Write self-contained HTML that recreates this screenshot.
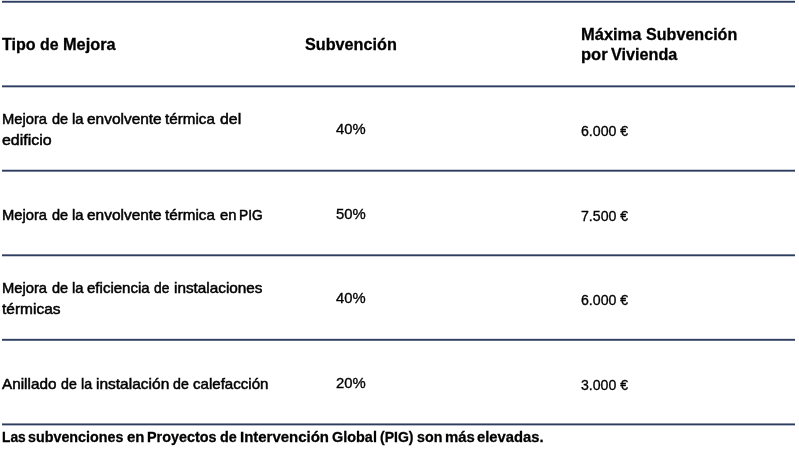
<!DOCTYPE html>
<html><head><meta charset="utf-8"><style>
html,body{margin:0;padding:0;background:#fff;width:799px;height:457px;overflow:hidden}
body{position:relative}
.t{position:absolute;white-space:pre;color:#000;font-family:"Liberation Sans",sans-serif;transform-origin:0 0}
#txt{position:absolute;left:0;top:0;width:799px;height:457px;filter:opacity(1)}
.b{font-weight:700;-webkit-text-stroke:0.3px #000}
.r{font-weight:400;-webkit-text-stroke:0.5px #000}
.n{font-weight:400;-webkit-text-stroke:0.35px #000}
svg{position:absolute;left:0;top:0}
</style></head><body>
<svg width="799" height="457" viewBox="0 0 799 457"><g fill="#2c3d5f"><rect x="2" y="0.80" width="793" height="1.9"/><rect x="2" y="85.40" width="793" height="1.9"/><rect x="2" y="169.75" width="793" height="1.9"/><rect x="2" y="254.35" width="793" height="1.9"/><rect x="2" y="338.85" width="793" height="1.9"/><rect x="2" y="423.45" width="793" height="1.9"/></g></svg>
<div id="txt">
<span class="t b" style="left:2.09px;top:36px;font-size:16.5px;line-height:16.5px;transform:scaleX(0.9736)">Tipo</span>
<span class="t b" style="left:40.32px;top:36px;font-size:16.5px;line-height:16.5px;transform:scaleX(0.9640)">de</span>
<span class="t b" style="left:62.94px;top:36px;font-size:16.5px;line-height:16.5px;transform:scaleX(0.9897)">Mejora</span>
<span class="t b" style="left:305.17px;top:36px;font-size:16.5px;line-height:16.5px;transform:scaleX(0.9817)">Subvención</span>
<span class="t b" style="left:581.03px;top:26px;font-size:16.5px;line-height:16.5px;transform:scaleX(0.9981)">Máxima</span>
<span class="t b" style="left:646.18px;top:26px;font-size:16.5px;line-height:16.5px;transform:scaleX(0.9763)">Subvención</span>
<span class="t b" style="left:581.12px;top:46px;font-size:16.5px;line-height:16.5px;transform:scaleX(1.0021)">por</span>
<span class="t b" style="left:611.13px;top:46px;font-size:16.5px;line-height:16.5px;transform:scaleX(0.9822)">Vivienda</span>
<span class="t r" style="left:1.99px;top:111px;font-size:15px;line-height:15px;transform:scaleX(0.9831)">Mejora</span>
<span class="t r" style="left:51.76px;top:111px;font-size:15px;line-height:15px;transform:scaleX(0.9698)">de</span>
<span class="t r" style="left:71.55px;top:111px;font-size:15px;line-height:15px;transform:scaleX(0.9849)">la</span>
<span class="t r" style="left:86.83px;top:111px;font-size:15px;line-height:15px;transform:scaleX(1.0297)">envolvente</span>
<span class="t r" style="left:165.43px;top:111px;font-size:15px;line-height:15px;transform:scaleX(1.0139)">térmica</span>
<span class="t r" style="left:219.53px;top:111px;font-size:15px;line-height:15px;transform:scaleX(1.0568)">del</span>
<span class="t r" style="left:2.22px;top:132px;font-size:15px;line-height:15px;transform:scaleX(1.0634)">edificio</span>
<span class="t n" style="left:335.65px;top:121px;font-size:15.5px;line-height:15.5px;transform:scaleX(0.9523)">40%</span>
<span class="t n" style="left:581.27px;top:123px;font-size:15.5px;line-height:15.5px;transform:scaleX(0.9130)">6.000 €</span>
<span class="t r" style="left:1.99px;top:207px;font-size:15px;line-height:15px;transform:scaleX(0.9831)">Mejora</span>
<span class="t r" style="left:51.76px;top:207px;font-size:15px;line-height:15px;transform:scaleX(0.9698)">de</span>
<span class="t r" style="left:71.55px;top:207px;font-size:15px;line-height:15px;transform:scaleX(0.9849)">la</span>
<span class="t r" style="left:86.83px;top:207px;font-size:15px;line-height:15px;transform:scaleX(1.0297)">envolvente</span>
<span class="t r" style="left:165.43px;top:207px;font-size:15px;line-height:15px;transform:scaleX(1.0159)">térmica</span>
<span class="t r" style="left:219.84px;top:207px;font-size:15px;line-height:15px;transform:scaleX(0.9887)">en</span>
<span class="t r" style="left:239.29px;top:207px;font-size:15px;line-height:15px;transform:scaleX(0.9158)">PIG</span>
<span class="t n" style="left:335.54px;top:206px;font-size:15.5px;line-height:15.5px;transform:scaleX(0.9591)">50%</span>
<span class="t n" style="left:581.30px;top:208px;font-size:15.5px;line-height:15.5px;transform:scaleX(0.9125)">7.500 €</span>
<span class="t r" style="left:1.99px;top:280px;font-size:15px;line-height:15px;transform:scaleX(0.9831)">Mejora</span>
<span class="t r" style="left:51.76px;top:280px;font-size:15px;line-height:15px;transform:scaleX(0.9698)">de</span>
<span class="t r" style="left:71.55px;top:280px;font-size:15px;line-height:15px;transform:scaleX(0.9849)">la</span>
<span class="t r" style="left:86.84px;top:280px;font-size:15px;line-height:15px;transform:scaleX(1.0021)">eficiencia</span>
<span class="t r" style="left:154.28px;top:280px;font-size:15px;line-height:15px;transform:scaleX(0.9191)">de</span>
<span class="t r" style="left:173.54px;top:280px;font-size:15px;line-height:15px;transform:scaleX(1.0204)">instalaciones</span>
<span class="t r" style="left:2.13px;top:301px;font-size:15px;line-height:15px;transform:scaleX(1.0332)">térmicas</span>
<span class="t n" style="left:335.65px;top:290px;font-size:15.5px;line-height:15.5px;transform:scaleX(0.9523)">40%</span>
<span class="t n" style="left:581.27px;top:292px;font-size:15.5px;line-height:15.5px;transform:scaleX(0.9130)">6.000 €</span>
<span class="t r" style="left:2.28px;top:376px;font-size:15px;line-height:15px;transform:scaleX(1.0190)">Anillado</span>
<span class="t r" style="left:60.97px;top:376px;font-size:15px;line-height:15px;transform:scaleX(0.9444)">de</span>
<span class="t r" style="left:80.77px;top:376px;font-size:15px;line-height:15px;transform:scaleX(0.9488)">la</span>
<span class="t r" style="left:95.63px;top:376px;font-size:15px;line-height:15px;transform:scaleX(1.0335)">instalación</span>
<span class="t r" style="left:172.57px;top:376px;font-size:15px;line-height:15px;transform:scaleX(0.9444)">de</span>
<span class="t r" style="left:192.86px;top:376px;font-size:15px;line-height:15px;transform:scaleX(1.0053)">calefacción</span>
<span class="t n" style="left:335.60px;top:375px;font-size:15.5px;line-height:15.5px;transform:scaleX(0.9574)">20%</span>
<span class="t n" style="left:581.39px;top:377px;font-size:15.5px;line-height:15.5px;transform:scaleX(0.9106)">3.000 €</span>
<span class="t b" style="left:2.22px;top:429px;font-size:15.5px;line-height:15.5px;transform:scaleX(0.8892)">Las</span>
<span class="t b" style="left:28.38px;top:429px;font-size:15.5px;line-height:15.5px;transform:scaleX(0.9228)">subvenciones</span>
<span class="t b" style="left:126.53px;top:429px;font-size:15.5px;line-height:15.5px;transform:scaleX(0.9660)">en</span>
<span class="t b" style="left:147.19px;top:429px;font-size:15.5px;line-height:15.5px;transform:scaleX(0.9274)">Proyectos</span>
<span class="t b" style="left:220.35px;top:429px;font-size:15.5px;line-height:15.5px;transform:scaleX(0.9267)">de</span>
<span class="t b" style="left:240.25px;top:429px;font-size:15.5px;line-height:15.5px;transform:scaleX(0.9646)">Intervención</span>
<span class="t b" style="left:332.43px;top:429px;font-size:15.5px;line-height:15.5px;transform:scaleX(0.9311)">Global</span>
<span class="t b" style="left:380.49px;top:429px;font-size:15.5px;line-height:15.5px;transform:scaleX(0.9057)">(PIG)</span>
<span class="t b" style="left:417.28px;top:429px;font-size:15.5px;line-height:15.5px;transform:scaleX(0.9191)">son</span>
<span class="t b" style="left:444.84px;top:429px;font-size:15.5px;line-height:15.5px;transform:scaleX(0.9599)">más</span>
<span class="t b" style="left:477.24px;top:429px;font-size:15.5px;line-height:15.5px;transform:scaleX(0.9524)">elevadas.</span>
</div>
</body></html>
